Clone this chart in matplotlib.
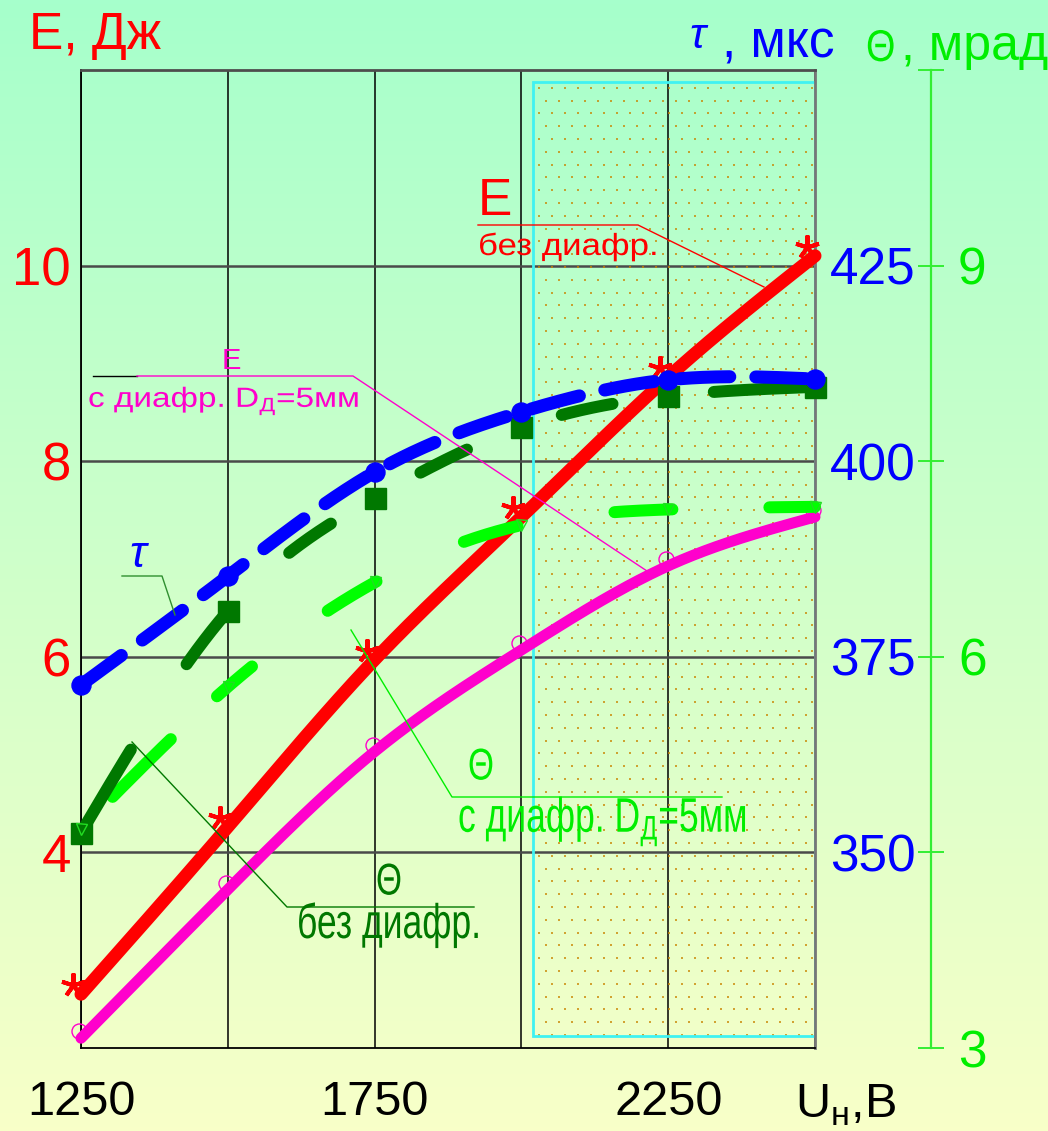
import numpy as np
import matplotlib
matplotlib.use('Agg')
import matplotlib.pyplot as plt
from matplotlib.patches import Rectangle
from matplotlib.patheffects import AbstractPathEffect
import matplotlib.transforms as mtransforms

# ---- data -------------------------------------------------------------
voltage = [1250, 1500, 1750, 2000, 2250, 2500]                 # U_н, В
energy_open = [2.55, 4.26, 5.97, 7.43, 8.86, 10.1]            # E без диафр., Дж
energy_aperture = [2.1, 3.62, 5.03, 6.07, 6.93, 7.43]         # E с диафр. D=5 мм, Дж
tau_us = [371.4, 385.3, 398.6, 406.3, 410.4, 410.5]           # τ, мкс
theta_open = [4.65, 6.35, 7.22, 7.76, 8.0, 8.07]              # Θ без диафр., мрад
theta_aperture = [4.68, 5.77, 6.57, 7.01, 7.13, 7.15]         # Θ с диафр., мрад

x_ticks = [1250, 1500, 1750, 2000, 2250, 2500]
x_tick_labels = ['1250', '', '1750', '', '2250', '']
e_ticks = [4, 6, 8, 10]
e_tick_labels = ['4', '6', '8', '10']
tau_ticks = [350, 375, 400, 425]
tau_tick_labels = ['350', '375', '400', '425']
theta_ticks = [3, 4.5, 6, 7.5, 9, 10.5]
theta_tick_labels = ['3', '', '6', '', '9', '']
zone_volts = (2020, 2500)      # shaded working zone
zone_energy = (2.12, 11.88)

# ---- setup --------------------------------------------------------------
W, H, DPI = 1048, 1131, 100
plt.rcParams['font.family'] = ['Liberation Sans', 'DejaVu Sans']
plt.rcParams['lines.scale_dashes'] = False
plt.rcParams['mathtext.fontset'] = 'custom'
plt.rcParams['mathtext.rm'] = 'Liberation Sans'


def px(v):
    """pixels -> points"""
    return v * 72.0 / DPI


class Stretch(AbstractPathEffect):
    """Horizontally squeeze (sx < 1) or widen (sx > 1) glyphs about the text origin."""

    def __init__(self, sx):
        super().__init__()
        self.sx = sx

    def draw_path(self, renderer, gc, tpath, affine, rgbFace=None):
        renderer.draw_path(gc, tpath, mtransforms.Affine2D().scale(self.sx, 1.0) + affine,
                           rgbFace)


def smooth_curve(x, y, num=400):
    """natural cubic spline through the measured points"""
    x = np.asarray(x, float)
    y = np.asarray(y, float)
    n = len(x)
    h = np.diff(x)
    A = np.zeros((n, n))
    rhs = np.zeros(n)
    A[0, 0] = A[-1, -1] = 1.0
    for i in range(1, n - 1):
        A[i, i - 1] = h[i - 1]
        A[i, i] = 2 * (h[i - 1] + h[i])
        A[i, i + 1] = h[i]
        rhs[i] = 3 * ((y[i + 1] - y[i]) / h[i] - (y[i] - y[i - 1]) / h[i - 1])
    c = np.linalg.solve(A, rhs)
    b = (y[1:] - y[:-1]) / h - h * (2 * c[:-1] + c[1:]) / 3
    d = (c[1:] - c[:-1]) / (3 * h)
    xs = np.linspace(x[0], x[-1], num)
    k = np.clip(np.searchsorted(x, xs, side='right') - 1, 0, n - 2)
    t = xs - x[k]
    return xs, y[k] + b[k] * t + c[k] * t ** 2 + d[k] * t ** 3


def dash_style(seq_px, start_gap_px=0.0):
    """on/off dash sequence given in pixels; the line may open with a gap
    taken from the end of the last 'off' segment"""
    seq = [px(v) for v in seq_px]
    return (sum(seq) - px(start_gap_px) if start_gap_px else 0, seq)


fig = plt.figure(figsize=(W / DPI, H / DPI), dpi=DPI)

# background gradient: mint at the top, pale yellow at the bottom
bg = fig.add_axes([0, 0, 1, 1], zorder=-10)
top = np.array([166, 255, 204]) / 255
bottom = np.array([248, 255, 200]) / 255
f = np.linspace(0, 1, 256)[:, None, None]
grad = top[None, None, :] * (1 - f) + bottom[None, None, :] * f
bg.imshow(grad, aspect='auto', extent=[0, 1, 0, 1])
bg.axis('off')

x0, x1, ytop, ybot = 81, 815, 70, 1048
ax = fig.add_axes([x0 / W, 1 - ybot / H, (x1 - x0) / W, (ybot - ytop) / H])
ax.patch.set_visible(False)
ax.set_xlim(voltage[0], voltage[-1])
ax.set_ylim(2, 12)
ax_th = ax.twinx()
ax_th.set_ylim(3, 10.5)
ax_t = ax.twinx()
ax_t.set_ylim(325, 450)

# frame and grid
ax.spines['left'].set_color('black')
ax.spines['bottom'].set_color('black')
ax.spines['left'].set_linewidth(1.3)
ax.spines['bottom'].set_linewidth(1.3)
ax.spines['top'].set_color('#4d4d4d')
ax.spines['top'].set_linewidth(2)
ax.spines['right'].set_color('#777777')
ax.spines['right'].set_linewidth(2)
ax.set_xticks(x_ticks)
ax.set_xticklabels(x_tick_labels)
ax.set_yticks(e_ticks)
ax.set_yticklabels(e_tick_labels)
ax.xaxis.grid(True, color='black', lw=1.1)
ax.yaxis.grid(True, color='#4a4a4a', lw=1.8)
ax.set_axisbelow(True)
ax.tick_params(axis='x', length=0, pad=px(32), labelsize=35, labelcolor='black')
ax.tick_params(axis='y', length=0, pad=px(10), labelsize=38, labelcolor='#ff0000')

for s in ax_t.spines.values():
    s.set_visible(False)
ax_t.set_yticks(tau_ticks)
ax_t.set_yticklabels(tau_tick_labels)
ax_t.tick_params(axis='y', length=0, pad=px(15), labelsize=37, labelcolor='#0000ff')

for name, s in ax_th.spines.items():
    s.set_visible(name == 'right')
ax_th.spines['right'].set_position(('axes', (931 - x0) / (x1 - x0)))
ax_th.spines['right'].set_color('#33ee33')
ax_th.spines['right'].set_linewidth(1.6)
ax_th.set_yticks(theta_ticks)
ax_th.set_yticklabels(theta_tick_labels)
ax_th.tick_params(axis='y', direction='inout', length=px(26), width=1.4,
                  color='#33ee33', pad=px(14), labelsize=37, labelcolor='#00ee00')

# shaded working zone with a dotted fill
ax.add_patch(Rectangle((zone_volts[0], zone_energy[0]), zone_volts[1] - zone_volts[0],
                       zone_energy[1] - zone_energy[0], fill=False,
                       ec='#3ff2f2', lw=2, zorder=2.5))
vpp = (voltage[-1] - voltage[0]) / (x1 - x0)     # volts per pixel
epp = 10.0 / (ybot - ytop)                       # joules per pixel
dot_x, dot_y = [], []
for i, yv in enumerate(np.arange(zone_energy[1] - 6 * epp, zone_energy[0], -12.8 * epp)):
    start = zone_volts[0] + (6 + 6.5 * (i % 2)) * vpp
    xs_row = np.arange(start, zone_volts[1] - 2 * vpp, 13 * vpp)
    dot_x.extend(xs_row)
    dot_y.extend([yv] * len(xs_row))
ax.scatter(dot_x, dot_y, s=0.6, marker='s', color='#c98400', alpha=0.75,
           linewidths=0, zorder=1.5)

# ---- curves -------------------------------------------------------------
MAG, RED, BLUE, DKG, LTG = '#ff00cc', '#ff0000', '#0000ff', '#007800', '#00ff00'

xs, ys = smooth_curve(voltage, energy_aperture)
ax.plot(xs, ys, color=MAG, lw=px(11), solid_capstyle='round', zorder=3, clip_on=False)
ax.plot(voltage, energy_aperture, ls='none', marker='o', ms=px(15), mfc='none',
        mec=MAG, mew=1, zorder=3.1, clip_on=False,
        transform=mtransforms.offset_copy(ax.transData, fig=fig, x=-2, y=7, units='dots'))

xs, ys = smooth_curve(voltage, energy_open)
ax.plot(xs, ys, color=RED, lw=px(13), solid_capstyle='round', zorder=4, clip_on=False)
ax.plot(voltage, energy_open, ls='none', marker=(5, 2, 0), ms=px(24), mec=RED,
        mew=px(4), zorder=4.1, clip_on=False,
        transform=mtransforms.offset_copy(ax.transData, fig=fig, x=-8, y=9, units='dots'))

xs, ys = smooth_curve(voltage, theta_aperture)
ax_th.plot(xs, ys, color=LTG, lw=px(12),
           ls=dash_style([82, 63, 46, 94, 57, 96, 56, 98, 58, 97, 300, 45], start_gap_px=45),
           dash_capstyle='round', zorder=3, clip_on=False)
ax_th.plot(voltage, theta_aperture, ls='none', marker='v', ms=px(11), mfc='none',
           mec='#22dd22', mew=1, zorder=4.2, clip_on=False)

xs, ys = smooth_curve(voltage, theta_open)
ax_th.plot(xs, ys, color=DKG, lw=px(12),
           ls=dash_style([97, 102, 61, 91, 51, 103, 52, 101, 52, 102, 300, 10]),
           dash_capstyle='round', zorder=4, clip_on=False)
ax_th.plot(voltage, theta_open, ls='none', marker='s', ms=px(21), color=DKG,
           zorder=4.1, clip_on=False)

xs, ys = smooth_curve(voltage, tau_us)
ax_t.plot(xs, ys, color=BLUE, lw=px(13), ls=(0, (px(50), px(26))),
          dash_capstyle='round', zorder=3, clip_on=False)
ax_t.plot(voltage, tau_us, ls='none', marker='o', ms=px(19), color=BLUE,
          zorder=3.1, clip_on=False)

# ---- titles, captions and leader lines (pixel layout) --------------------
ov = fig.add_axes([0, 0, 1, 1], zorder=10)
ov.set_xlim(0, W)
ov.set_ylim(H, 0)
ov.axis('off')

ov.text(29, 49, 'E, Дж', color=RED, fontsize=37, va='baseline')
ov.text(689, 48, 'τ', color=BLUE, fontsize=31, style='italic', va='baseline')
ov.text(722, 58, ', мкс', color=BLUE, fontsize=37, va='baseline')
ov.text(866, 61, 'Θ', color='#00ee00', fontsize=32, va='baseline',
        path_effects=[Stretch(0.85)])
ov.text(901, 60, ', мрад', color='#00ee00', fontsize=36, va='baseline')
ov.text(795, 1118, r'U$_\mathregular{н}$,B', color='black', fontsize=35, va='baseline')

# E without aperture
ov.text(478, 215, 'E', color=RED, fontsize=37, va='baseline')
ov.text(478, 255, 'без диафр.', color=RED, fontsize=22, va='baseline',
        path_effects=[Stretch(1.14)])
ov.plot([478, 638, 764], [225, 225, 287], color=RED, lw=1)

# E with aperture
ov.text(222, 369, 'E', color=MAG, fontsize=21, va='baseline')
ov.text(88, 407, r'с диафр. $\mathregular{D_Д}$=5мм', color=MAG, fontsize=20,
        va='baseline', path_effects=[Stretch(1.2)])
ov.plot([93, 137], [376, 376], color='black', lw=1)
ov.plot([137, 353, 650], [376, 376, 573], color=MAG, lw=1)

# tau
ov.text(129, 567, 'τ', color=BLUE, fontsize=32, style='italic', va='baseline')
ov.plot([122, 162, 175], [576, 576, 615], color='#2f8f2f', lw=1)

# Theta with aperture
ov.text(468, 768, 'Θ', color='#00ee00', fontsize=32, va='center',
        path_effects=[Stretch(0.75)])
ov.text(458, 832, r'с диафр. $\mathregular{D_Д}$=5мм', color='#00ee00',
        fontsize=35, va='baseline', path_effects=[Stretch(0.73)])
ov.plot([351, 452, 722], [630, 797, 797], color='#00ee00', lw=1)

# Theta without aperture
ov.text(376, 883, 'Θ', color=DKG, fontsize=32, va='center',
        path_effects=[Stretch(0.75)])
ov.text(297, 938, 'без диафр.', color=DKG, fontsize=35, va='baseline',
        path_effects=[Stretch(0.73)])
ov.plot([132, 287, 474], [742, 907, 907], color=DKG, lw=1)

fig.savefig('out.png', dpi=DPI)
